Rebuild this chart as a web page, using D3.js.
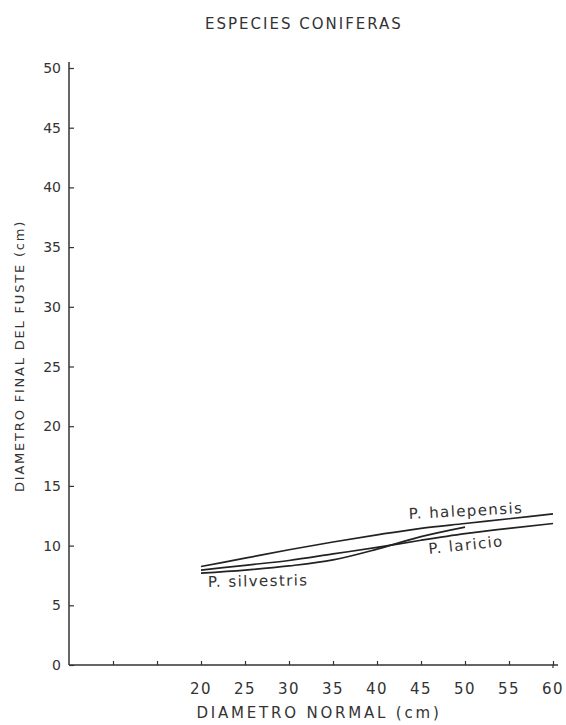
<!DOCTYPE html>
<html><head><meta charset="utf-8">
<script src="https://cdn.jsdelivr.net/npm/d3@7"></script>
<style>body{margin:0;background:#fff}svg{display:block}text{font-family:"DejaVu Sans",sans-serif;fill:#333}</style>
</head><body>
<script>
const title = "ESPECIES CONIFERAS";
const xTitle = "DIAMETRO NORMAL (cm)";
const yTitle = "DIAMETRO FINAL DEL FUSTE (cm)";
const xTicks = [10, 15, 20, 25, 30, 35, 40, 45, 50, 55, 60];
const xTickLabels = ["", "", "20", "25", "30", "35", "40", "45", "50", "55", "60"];
const yTicks = [0, 5, 10, 15, 20, 25, 30, 35, 40, 45, 50];

const halepensisX = [20, 25, 30, 35, 40, 45, 50, 55, 60];
const halepensisY = [8.25, 8.95, 9.65, 10.3, 10.9, 11.45, 11.85, 12.25, 12.65];
const laricioX = [20, 25, 30, 35, 40, 45, 50, 55, 60];
const laricioY = [7.95, 8.35, 8.75, 9.3, 9.85, 10.45, 11.0, 11.45, 11.85];
const silvestrisX = [20, 25, 30, 35, 40, 45, 50];
const silvestrisY = [7.7, 7.95, 8.3, 8.8, 9.7, 10.75, 11.55];

const series = [
  {name: "P. halepensis", x: halepensisX, y: halepensisY, lx: 409, ly: 519, rot: -3},
  {name: "P. laricio", x: laricioX, y: laricioY, lx: 429, ly: 554, rot: -6},
  {name: "P. silvestris", x: silvestrisX, y: silvestrisY, lx: 208, ly: 587, rot: -1}
];

const W = 566, H = 725;
const svg = d3.select("body").append("svg").attr("width", W).attr("height", H);
const x = d3.scaleLinear().domain([5, 60]).range([69, 553]);
const y = d3.scaleLinear().domain([0, 50]).range([665, 68]);
const ink = "#333";

svg.append("text").attr("x", 304).attr("y", 29).attr("text-anchor", "middle")
  .style("font-size", "15px").style("letter-spacing", "2px").text(title);

// y axis
const yAxis = svg.append("g").attr("transform", `translate(${x(5)},0)`)
  .call(d3.axisRight(y).tickValues(yTicks).tickSize(5).tickFormat(""));
yAxis.select(".domain").attr("d", `M0,${y(0)}V${y(50)-6}`).attr("stroke", ink).attr("stroke-width", 1.5);
yAxis.selectAll(".tick line").attr("stroke", ink).attr("stroke-width", 1.2);
svg.append("g").selectAll("text").data(yTicks).join("text")
  .attr("x", x(5) - 8).attr("y", d => y(d) + 5).attr("text-anchor", "end")
  .style("font-size", "14px").text(d => d);

// x axis
const xAxis = svg.append("g").attr("transform", `translate(0,${y(0)})`)
  .call(d3.axisTop(x).tickValues(xTicks).tickSize(4).tickFormat(""));
xAxis.select(".domain").attr("d", `M${x(5)},0H${x(60)+5}`).attr("stroke", ink).attr("stroke-width", 1.5);
xAxis.selectAll(".tick line").attr("stroke", ink).attr("stroke-width", 1.2);
xAxis.append("line").attr("x1", x(60)).attr("x2", x(60)).attr("y1", 0).attr("y2", 3).attr("stroke", ink).attr("stroke-width", 1.2);
svg.append("g").selectAll("text").data(xTicks).join("text")
  .attr("x", d => x(d)).attr("y", y(0) + 29).attr("text-anchor", "middle")
  .style("font-size", "15px").style("letter-spacing", "1.5px").text((d, i) => xTickLabels[i]);

svg.append("text").attr("x", 319).attr("y", 718).attr("text-anchor", "middle")
  .style("font-size", "15px").style("letter-spacing", "2.8px").text(xTitle);
svg.append("text").attr("transform", "translate(24,356) rotate(-90)").attr("text-anchor", "middle")
  .style("font-size", "13px").style("letter-spacing", "1.8px").text(yTitle);

// curves
const line = d3.line().curve(d3.curveMonotoneX);
series.forEach(s => {
  svg.append("path").attr("d", line(s.x.map((v, i) => [x(v), y(s.y[i])])))
    .attr("fill", "none").attr("stroke", "#222").attr("stroke-width", 1.7);
  svg.append("text").attr("transform", `translate(${s.lx},${s.ly}) rotate(${s.rot})`)
    .style("font-size", "15px").style("letter-spacing", "1.4px").text(s.name);
});
</script>
</body></html>
